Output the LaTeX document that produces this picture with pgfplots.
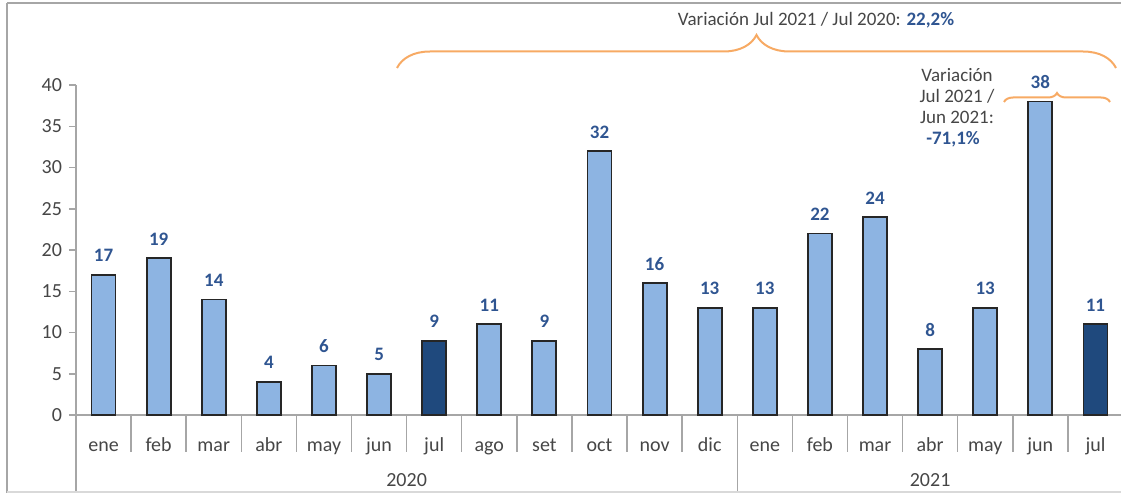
\documentclass[border=0pt]{standalone}
\usepackage{fontspec}
\setmainfont{Carlito}
\usepackage{pgfplots}
\pgfplotsset{compat=1.18}
\usetikzlibrary{decorations.pathreplacing}
\definecolor{lightbar}{RGB}{141,180,226}
\definecolor{darkbar}{RGB}{31,73,125}
\definecolor{lbl}{RGB}{47,85,145}
\definecolor{brc}{RGB}{247,170,100}
\definecolor{axisgray}{RGB}{166,166,166}
\definecolor{txtgray}{RGB}{70,70,70}
\begin{document}
\begin{tikzpicture}
\useasboundingbox (0,0) rectangle (560.5pt,246.5pt);
\begin{axis}[
  at={(38pt,39pt)}, anchor=south west,
  scale only axis, width=523.5pt, height=165pt,
  xmin=-0.5, xmax=18.5, ymin=0, ymax=40,
  axis lines*=left,
  axis line style={axisgray, line width=0.75pt},
  ytick={0,5,...,40},
  tick align=outside, major tick length=3.5pt,
  ytick style={axisgray, line width=0.75pt},
  xtick={0,...,18},
  xticklabels={ene,feb,mar,abr,may,jun,jul,ago,set,oct,nov,dic,ene,feb,mar,abr,may,jun,jul},
  xtick style={draw=none},
  xticklabel style={anchor=base, yshift=-15pt, font=\fontsize{10}{12}\selectfont, text=txtgray},
  yticklabel style={font=\fontsize{10}{12}\selectfont, text=txtgray},
  /pgf/number format/assume math mode=true,
  clip=false,
  ybar, bar width=12pt,
  nodes near coords,
  every node near coord/.append style={font=\bfseries\fontsize{9.5}{11}\selectfont, text=lbl, anchor=base, yshift=6.5pt},
]
\addplot[fill=lightbar, draw=black!85, line width=0.9pt, bar shift=0pt] coordinates {
  (0,17)(1,19)(2,14)(3,4)(4,6)(5,5)(7,11)(8,9)(9,32)(10,16)(11,13)
  (12,13)(13,22)(14,24)(15,8)(16,13)(17,38)};
\addplot[fill=darkbar, draw=black!85, line width=0.9pt, bar shift=0pt] coordinates {(6,9)(18,11)};
\pgfplotsinvokeforeach{0.5,1.5,...,17.5}{
  \draw[axisgray, line width=0.75pt] (axis cs:#1,0) -- ([yshift=-18.5pt]axis cs:#1,0);
}
\draw[axisgray, line width=0.75pt] (axis cs:-0.5,0) -- ([yshift=-39pt]axis cs:-0.5,0);
\draw[axisgray, line width=0.75pt] (axis cs:11.5,0) -- ([yshift=-39pt]axis cs:11.5,0);
\node[anchor=base, font=\fontsize{10}{12}\selectfont, text=txtgray] at ([yshift=-35.5pt]axis cs:5.5,0) {2020};
\node[anchor=base, font=\fontsize{10}{12}\selectfont, text=txtgray] at ([yshift=-35.5pt]axis cs:15,0) {2021};
\end{axis}
\begin{scope}[x=0.5pt, y=-0.5pt, shift={(0,246.5pt)}]
  \draw[gray!70, line width=1pt] (7,3) -- (1130,3);
  \draw[gray!70, line width=0.75pt] (7,3) -- (7,495);
  \draw[gray!30, line width=0.75pt] (7,492) -- (1130,492);
  \draw[brc, line width=1pt, decorate, decoration={brace, amplitude=16.5pt}] (397,68) -- (1116,68);
  \node[anchor=base, font=\fontsize{9.5}{11}\selectfont, text=txtgray, inner sep=0pt] at (816,26) {Variación Jul 2021 / Jul 2020: \textcolor{lbl}{\bfseries 22,2\%}};
  \draw[brc, line width=1pt, decorate, decoration={brace, amplitude=4.5pt}] (1004,102) -- (1110,102);
  \node[anchor=base, font=\fontsize{9.5}{11}\selectfont, text=txtgray, inner sep=0pt] at (957,82) {Variación};
  \node[anchor=base, font=\fontsize{9.5}{11}\selectfont, text=txtgray, inner sep=0pt] at (957,103) {Jul 2021 /};
  \node[anchor=base, font=\fontsize{9.5}{11}\selectfont, text=txtgray, inner sep=0pt] at (957,124) {Jun 2021:};
  \node[anchor=base, font=\bfseries\fontsize{9.5}{11}\selectfont, text=lbl, inner sep=0pt] at (953,145) {-71,1\%};
\end{scope}
\end{tikzpicture}
\end{document}
